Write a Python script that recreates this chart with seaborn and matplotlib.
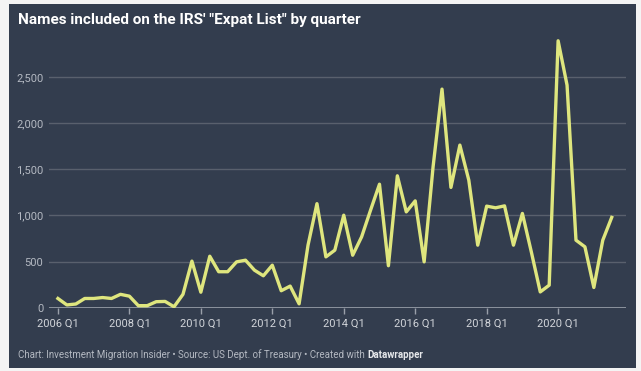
import numpy as np
import pandas as pd
import seaborn as sns
import matplotlib.pyplot as plt
from matplotlib.patches import Rectangle
from matplotlib import font_manager as fm

# quarterly counts, 2006 Q1 .. 2021 Q3
years = list(range(2006, 2022))
quarters = [f"{y} Q{q}" for y in years for q in range(1, 5)][:63]
names = [100, 30, 40, 100, 100, 110, 100, 145,
         125, 22, 22, 65, 68, 10, 145, 505,
         168, 558, 390, 390, 497, 515, 407, 346,
         461, 184, 234, 42, 678, 1128, 551, 624,
         1003, 569, 768, 1057, 1339, 455, 1430, 1039,
         1158, 497, 1527, 2370, 1304, 1763, 1383, 678,
         1101, 1083, 1104, 678, 1022, 605, 171, 244,
         2894, 2413, 732, 660, 219, 732, 979]
tick_labels = [f"{y} Q1" for y in range(2006, 2021, 2)]
y_ticks = [0, 500, 1000, 1500, 2000, 2500]

df = pd.DataFrame({"quarter": quarters, "idx": np.arange(len(names)), "names": names})

bg = "#333d4e"
W, H = 641, 371
fig = plt.figure(figsize=(W / 100, H / 100), dpi=100, facecolor="#f4f4f4")
fig.patches.append(Rectangle((9 / W, 3 / H), 627 / W, 364 / H, transform=fig.transFigure,
                             facecolor=bg, edgecolor="none", zorder=-5))

plt.rcParams["font.family"] = ["Roboto", "DejaVu Sans"]

ax = fig.add_axes([49 / W, (H - 307.7) / H, (626 - 49) / W, (307.7 - 31) / H])
ax.set_facecolor("none")
sns.lineplot(data=df, x="idx", y="names", ax=ax, color="#dfe67e", linewidth=2.4, zorder=3)

ax.set_xlim(-1, 63.6)
ax.set_ylim(0, 3000)
ax.set_yticks(y_ticks)
ax.set_yticklabels([f"{v:,}" for v in y_ticks])
ax.set_xticks(np.arange(0, 64, 8)[:len(tick_labels)])
ax.set_xticklabels(tick_labels)
ax.grid(axis="y", color="#59606d", linewidth=1)
ax.set_axisbelow(True)
for s in ax.spines.values():
    s.set_visible(False)
ax.axhline(0, color="#9aa0aa", linewidth=1.2, zorder=2)
ax.tick_params(axis="y", length=0, pad=4, labelsize=8, labelcolor="#b4b9c2")
ax.tick_params(axis="x", length=4, width=1, color="#9aa0aa", pad=4, labelsize=8, labelcolor="#d2d5da")
ax.set_xlabel("")
ax.set_ylabel("")

# title: Roboto Condensed if present, else plain Roboto a bit smaller
cond = fm.FontProperties(family="Roboto", stretch="condensed", weight="bold")
if "Condensed" in fm.findfont(cond, fallback_to_default=True):
    title_kw = dict(family="Roboto", stretch="condensed", fontsize=12)
else:
    title_kw = dict(family="Roboto", fontsize=11)
fig.text(18 / W, 1 - 20 / H, "Names included on the IRS' \"Expat List\" by quarter",
         color="white", fontweight="bold", va="center", ha="left", **title_kw)
fig.text(18 / W, 1 - 355 / H, "Chart: Investment Migration Insider \u2022 Source: US Dept. of Treasury \u2022 Created with ",
         color="#b4b9c2", fontsize=7, va="center", ha="left")
t = fig.texts[-1]
fig.canvas.draw()
bb = t.get_window_extent()
fig.text(bb.x1 / W, 1 - 355 / H, "Datawrapper", color="#e6e8eb", fontsize=7,
         fontweight="bold", va="center", ha="left")

fig.savefig("out.png", dpi=100, facecolor=fig.get_facecolor())
